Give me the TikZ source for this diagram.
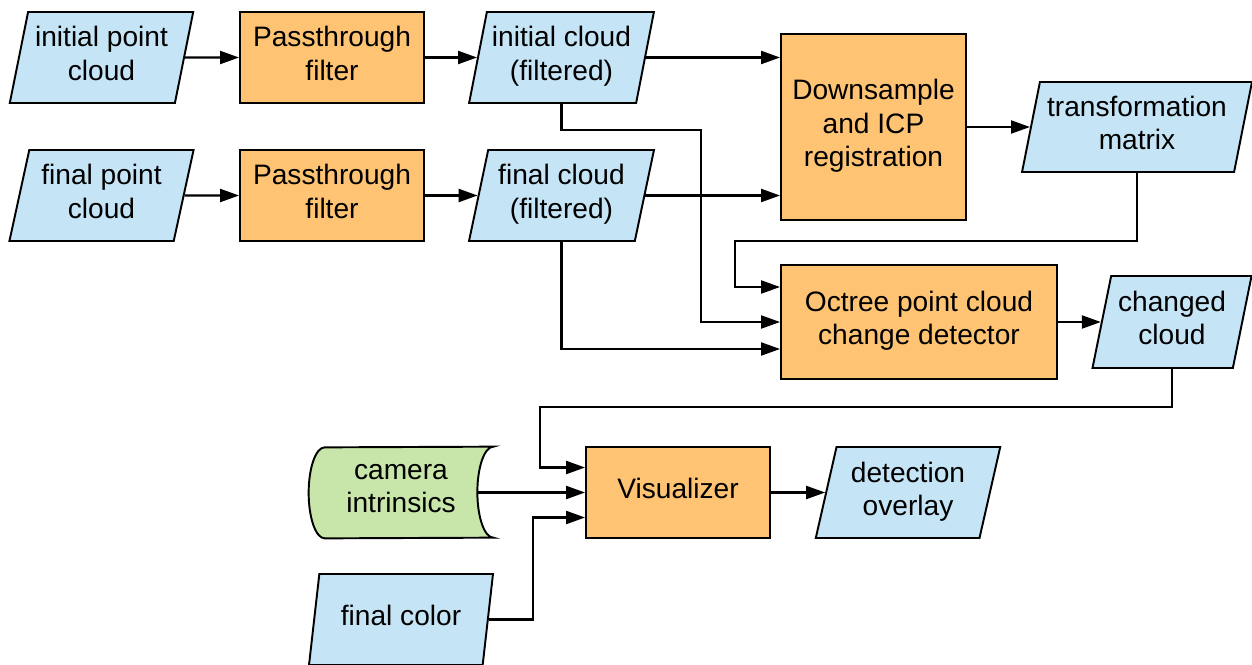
\documentclass[tikz,border=0pt]{standalone}
\usepackage{fontspec}
\setmainfont{Liberation Sans}
\usetikzlibrary{positioning, shapes.geometric, arrows.meta, backgrounds}

\definecolor{datablue}{RGB}{197,228,245}
\definecolor{procorange}{RGB}{254,195,115}
\definecolor{storegreen}{RGB}{200,230,170}

\tikzset{
  data/.style={trapezium, trapezium left angle=75, trapezium right angle=105,
    trapezium stretches=true, draw, line width=1.1pt, fill=datablue,
    minimum width=3.7cm, minimum height=1.82cm, inner sep=0pt, align=center,
    text depth=0.16cm},
  proc/.style={rectangle, draw, line width=1.1pt, fill=procorange,
    minimum width=3.68cm, minimum height=1.82cm, inner sep=0pt, align=center,
    text depth=0.16cm},
  arr/.style={line width=1.25pt, -{Triangle[length=0.38cm,width=0.26cm]}}
}

\begin{document}
\begin{tikzpicture}[font=\fontsize{16}{19}\selectfont]
\useasboundingbox (0,0) rectangle (25.04,-13.28);

\node[data] at (2.03,-1.15) (cloud1) {initial point\\cloud} ;
\node[data] at (2.03,-3.91) (cloud2) {final point\\cloud} ;
\node[proc] at (6.64,-1.15) (pass1) {Passthrough\\filter} ;
\node[proc] at (6.64,-3.91) (pass2) {Passthrough\\filter} ;
\node[data] at (11.23,-1.15) (filt1) {initial cloud\\(filtered)} ;
\node[data] at (11.23,-3.91) (filt2) {final cloud\\(filtered)} ;
\node[proc, minimum width=3.7cm, minimum height=3.72cm] at (17.47,-2.54) (icp) {Downsample\\and ICP\\registration} ;
\node[data, minimum width=4.6cm, minimum height=1.8cm] at (22.74,-2.54) (trans) {transformation\\matrix} ;
\node[proc, minimum width=5.52cm, minimum height=2.28cm] at (18.38,-6.44) (octree) {Octree point cloud\\change detector} ;
\node[data, minimum width=3.2cm, minimum height=1.84cm] at (23.44,-6.44) (changed) {changed\\cloud} ;
\node[proc] at (13.56,-9.85) (vis) {Visualizer} ;
\node[data] at (18.16,-9.85) (overlay) {detection\\overlay} ;
\node[minimum width=3.68cm, minimum height=1.82cm, inner sep=0pt, align=center, text depth=0.16cm] at (8.02,-9.85) (cam) {camera\\intrinsics} ;
\node[data] at (8.02,-12.39) (color) {final color} ;

% stored data shape behind the camera node
\begin{scope}[on background layer]
\draw[line width=1.1pt, fill=storegreen] (cam.north east)
  arc[start angle=90, end angle=270, x radius=0.32cm, y radius=0.91cm]
  -- ([xshift=0.32cm]cam.south west)
  arc[start angle=270, end angle=90, x radius=0.32cm, y radius=0.91cm]
  -- cycle ;
\end{scope}

\coordinate (bend1) at (14.02,-2.6) ;
\coordinate (bend2) at (14.7,-4.82) ;
\coordinate (bend3) at (10.8,-8.14) ;
\coordinate (bend4) at (10.66,-10.35) ;

\draw[arr] (cloud1.east) -- (pass1.west) ;
\draw[arr] (cloud2.east) -- (pass2.west) ;
\draw[arr] (pass1.east) -- (pass1.east -| filt1.west) ;
\draw[arr] (pass2.east) -- (pass2.east -| filt2.west) ;
\draw[arr] (filt1.east) -- (filt1.east -| icp.west) ;
\draw[arr] (filt2.east) -- (filt2.east -| icp.west) ;
\draw[arr] (icp.east) -- (icp.east -| trans.west) ;
\draw[arr] (trans.south) |- (bend2) |- ([yshift=0.7cm]octree.west) ;
\draw[arr] (filt1.south) |- (bend1) |- (octree.west) ;
\draw[arr] (filt2.south) |- ([yshift=-0.54cm]octree.west) ;
\draw[arr] (octree.east) -- (octree.east -| changed.west) ;
\draw[arr] (changed.south) |- (bend3) |- ([yshift=0.5cm]vis.west) ;
\draw[arr] ([xshift=-0.32cm]cam.east) -- (vis.west) ;
\draw[arr] (color.east) -| (bend4) -- (bend4 -| vis.west) ;
\draw[arr] (vis.east) -- (vis.east -| overlay.west) ;
\end{tikzpicture}
\end{document}
